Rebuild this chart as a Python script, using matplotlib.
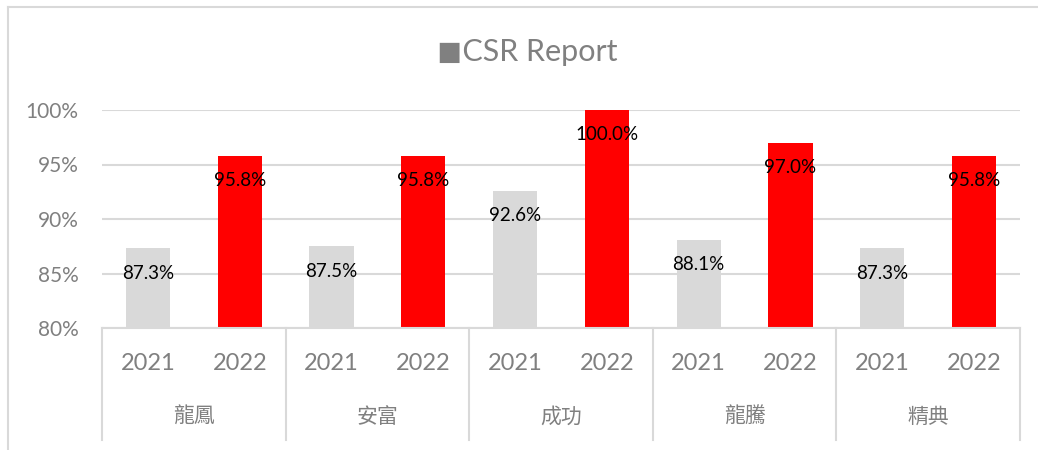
import matplotlib.pyplot as plt
import numpy as np

groups = ['龍鳳', '安富', '成功', '龍騰', '精典']
years = ['2021', '2022']
v2021 = [87.3, 87.5, 92.6, 88.1, 87.3]
v2022 = [95.8, 95.8, 100.0, 97.0, 95.8]

fam = ['Lato', 'Noto Sans CJK TC', 'DejaVu Sans']
plt.rcParams['font.family'] = fam
grey = '#808080'
line_c = '#d9d9d9'

W, H = 1038, 450
fig = plt.figure(figsize=(W / 100, H / 100), dpi=100)

# 外框
fig.add_artist(plt.Line2D([8 / W, 8 / W], [0, 1 - 7 / H], color=line_c, lw=1.5))
fig.add_artist(plt.Line2D([8 / W, 1], [1 - 7 / H, 1 - 7 / H], color=line_c, lw=1.5))

x0, x1, y0, y1 = 102, 1020, 328, 110
ax = fig.add_axes([x0 / W, 1 - y0 / H, (x1 - x0) / W, (y0 - y1) / H])

n = len(groups)
pos21 = np.arange(n) * 2
pos22 = pos21 + 1
bw = 0.48
ax.bar(pos21, np.array(v2021) / 100, bw, color='#d9d9d9', zorder=3)
ax.bar(pos22, np.array(v2022) / 100, bw, color='#ff0000', zorder=3)

for p, v in list(zip(pos21, v2021)) + list(zip(pos22, v2022)):
    ax.annotate(f'{v:.1f}%', (p, v / 100), xytext=(0, -18), textcoords='offset points',
                ha='center', va='center', fontsize=13.5, color='black', zorder=4)

ax.set_xlim(-0.5, 2 * n - 0.5)
ax.set_ylim(0.8, 1.0)
ax.set_yticks([0.8, 0.85, 0.9, 0.95, 1.0])
ax.set_yticklabels(['80%', '85%', '90%', '95%', '100%'])
ax.tick_params(axis='y', length=0, labelsize=15, labelcolor=grey, pad=17)
ax.tick_params(axis='x', length=0, labelbottom=False)
ax.grid(axis='y', color=line_c, lw=1.5, zorder=0)
for s in ['top', 'right', 'left']:
    ax.spines[s].set_visible(False)
ax.spines['bottom'].set_color(line_c)
ax.spines['bottom'].set_linewidth(1.5)
ax.spines['bottom'].set_zorder(5)

# 多级分类轴
trans = ax.get_xaxis_transform()
sep_bottom = -(440 - 328) / (y0 - y1)
for b in np.arange(n + 1) * 2 - 0.5:
    ax.plot([b, b], [0, sep_bottom], transform=trans, color=line_c, lw=1.5, clip_on=False)
for p in list(pos21) + list(pos22):
    yr = years[0] if p % 2 == 0 else years[1]
    ax.text(p, -(363 - 328) / (y0 - y1), yr, transform=trans, ha='center', va='center',
            fontsize=17, color=grey)
for i, g in enumerate(groups):
    ax.text(2 * i + 0.5, -(417 - 328) / (y0 - y1), g, transform=trans, ha='center', va='center',
            fontsize=15, color=grey)

fig.text(527 / W, 1 - 52 / H, '◼CSR Report', ha='center', va='center', fontsize=22,
         color=grey)

fig.savefig('out.png', dpi=100)
